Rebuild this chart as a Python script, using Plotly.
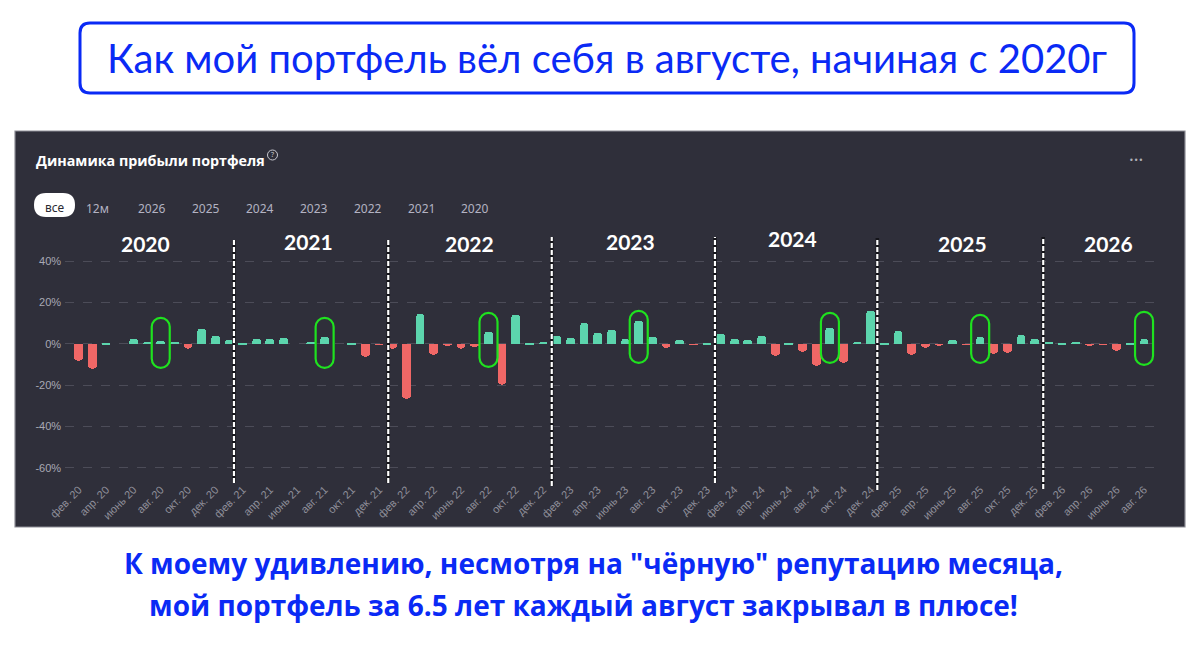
import plotly.graph_objects as go

# ---------------- data ----------------
# monthly portfolio return, %, from фев. 2020 to авг. 2026
values_2020 = [-8.2, -11.8, 0.3, 0.0, 2.3, 1.0, 1.6, 1.3, -2.1, 7.4, 4.0]          # фев..дек
values_2021 = [1.9, 0.6, 2.7, 2.4, 3.1, 0.0, 1.3, 3.7, 0.0, 0.8, -6.1, -0.3]
values_2022 = [-2.3, -26.5, 14.5, -5.0, -1.0, -2.1, -1.3, 6.1, -19.8, 14.2, 0.6, 1.0]
values_2023 = [4.0, 3.2, 10.3, 5.5, 6.8, 2.6, 11.0, 3.4, -1.9, 1.9, -0.3, 0.6]
values_2024 = [5.0, 2.4, 1.9, 3.8, -5.7, 0.3, -4.0, -10.3, 8.0, -9.2, 1.0, 16.0]
values_2025 = [0.6, 6.6, -5.1, -2.0, -1.0, 1.9, -0.3, 3.7, -4.8, -4.2, 4.4, 2.3]
values_2026 = [1.1, 0.8, 1.0, -1.0, -0.3, -3.4, 0.3, 2.6]                         # янв..авг

tick_text = [
    "фев. 20", "апр. 20", "июнь 20", "авг. 20", "окт. 20", "дек. 20",
    "фев. 21", "апр. 21", "июнь 21", "авг. 21", "окт. 21", "дек. 21",
    "фев. 22", "апр. 22", "июнь 22", "авг. 22", "окт. 22", "дек. 22",
    "фев. 23", "апр. 23", "июнь 23", "авг. 23", "окт. 23", "дек. 23",
    "фев. 24", "апр. 24", "июнь 24", "авг. 24", "окт. 24", "дек. 24",
    "фев. 25", "апр. 25", "июнь 25", "авг. 25", "окт. 25", "дек. 25",
    "фев. 26", "апр. 26", "июнь 26", "авг. 26",
]
y_ticks = [-60, -40, -20, 0, 20, 40]
year_labels = ["2020", "2021", "2022", "2023", "2024", "2025", "2026"]
filter_labels = ["12м", "2026", "2025", "2024", "2023", "2022", "2021", "2020"]
# bar indices the author circled
circled_idx = [6, 18, 30, 41, 55, 66, 78]

values = values_2020 + values_2021 + values_2022 + values_2023 + values_2024 + values_2025 + values_2026
x_idx = list(range(len(values)))

GREEN = "#5cd5ad"
RED = "#f06766"
PANEL = "#2f2f3a"
BLUE = "#0a2af5"

# the page body has an 8px margin: lay out in window pixels and compensate
OFF = 8
W, H = 1200 - OFF, 650 - OFF
def px(x):
    return (x - OFF) / W
def py(y):
    return 1 - (y - OFF) / H

def rrect_path(x0, y0, x1, y1, r):
    pts = [
        f"M {px(x0 + r)},{py(y0)}",
        f"L {px(x1 - r)},{py(y0)}",
        f"Q {px(x1)},{py(y0)} {px(x1)},{py(y0 + r)}",
        f"L {px(x1)},{py(y1 - r)}",
        f"Q {px(x1)},{py(y1)} {px(x1 - r)},{py(y1)}",
        f"L {px(x0 + r)},{py(y1)}",
        f"Q {px(x0)},{py(y1)} {px(x0)},{py(y1 - r)}",
        f"L {px(x0)},{py(y0 + r)}",
        f"Q {px(x0)},{py(y0)} {px(x0 + r)},{py(y0)}",
        "Z",
    ]
    return " ".join(pts)

def stadium_path(top, bot, r=9.0):
    k = 0.5523 * r
    return (
        f"M {-r},{bot + r} L {-r},{top - r} "
        f"C {-r},{top - r + k} {-k},{top} 0,{top} "
        f"C {k},{top} {r},{top - r + k} {r},{top - r} "
        f"L {r},{bot + r} "
        f"C {r},{bot + r - k} {k},{bot} 0,{bot} "
        f"C {-k},{bot} {-r},{bot + r - k} {-r},{bot + r} Z"
    )

colors = [GREEN if v >= 0 else RED for v in values]

fig = go.Figure()
fig.add_trace(go.Bar(
    x=x_idx, y=values, width=0.64,
    marker=dict(color=colors, line=dict(width=0), cornerradius=4),
    hoverinfo="skip", showlegend=False,
))

shapes = []
# dark panel
shapes.append(dict(type="rect", xref="paper", yref="paper",
                   x0=px(15), x1=px(1185), y0=py(527), y1=py(131),
                   fillcolor=PANEL, line=dict(color="#8d8d95", width=1.2), layer="below"))
# title box
shapes.append(dict(type="path", xref="paper", yref="paper",
                   path=rrect_path(80, 23, 1134, 93, 10),
                   fillcolor="rgba(0,0,0,0)", line=dict(color=BLUE, width=3)))
# "все" pill
shapes.append(dict(type="path", xref="paper", yref="paper",
                   path=rrect_path(34, 193, 75, 217, 12),
                   fillcolor="white", line=dict(width=0)))
# question icon
shapes.append(dict(type="circle", xref="paper", yref="paper",
                   x0=px(267.5), x1=px(277.5), y0=py(160), y1=py(150),
                   line=dict(color="#c9c9d0", width=1)))
# year separators (hand-drawn dashed lines)
sep_x = [11.36, 22.66, 34.63, 46.58, 58.47, 70.62]
sep_top = [240, 240, 237, 237, 238, 237]
sep_bot = [483, 483, 486, 483, 490, 489]
for xs, t, b in zip(sep_x, sep_top, sep_bot):
    shapes.append(dict(type="line", xref="x", yref="paper", x0=xs, x1=xs,
                       y0=py(b), y1=py(t), line=dict(color="#15151a", width=3.5)))
    shapes.append(dict(type="line", xref="x", yref="paper", x0=xs, x1=xs,
                       y0=py(b), y1=py(t), line=dict(color="white", width=2.2, dash="5px,2px")))
# green highlight loops around the circled bars
loop_top = [26, 26, 31, 33, 31, 29, 32]
loop_bot = [-24, -24, -23, -19, -19, -19, -21]
for i, t, b in zip(circled_idx, loop_top, loop_bot):
    shapes.append(dict(type="path", xref="x", yref="y",
                       xsizemode="pixel", ysizemode="pixel",
                       xanchor=i, yanchor=0,
                       path=stadium_path(t, b),
                       line=dict(color="#1fe21f", width=2.2)))

annotations = []
# main title
annotations.append(dict(xref="paper", yref="paper", x=px(607), y=py(58),
                        text="Как мой портфель вёл себя в августе, начиная с 2020г",
                        showarrow=False, xanchor="center", yanchor="middle",
                        font=dict(family="Lato", size=40, color=BLUE)))
# caption
annotations.append(dict(xref="paper", yref="paper", x=px(593), y=py(563),
                        text="К моему удивлению, несмотря на \"чёрную\" репутацию месяца,",
                        showarrow=False, xanchor="center", yanchor="middle",
                        font=dict(family="Open Sans", size=28, color=BLUE, weight="bold")))
annotations.append(dict(xref="paper", yref="paper", x=px(583), y=py(605),
                        text="мой портфель за 6.5 лет каждый август закрывал в плюсе!",
                        showarrow=False, xanchor="center", yanchor="middle",
                        font=dict(family="Open Sans", size=28, color=BLUE, weight="bold")))
# panel title
annotations.append(dict(xref="paper", yref="paper", x=px(34), y=py(160),
                        text="Динамика прибыли портфеля", showarrow=False,
                        xanchor="left", yanchor="middle",
                        font=dict(family="Open Sans", size=14.3, color="white", weight="bold")))
annotations.append(dict(xref="paper", yref="paper", x=px(272.5), y=py(155),
                        text="?", showarrow=False, xanchor="center", yanchor="middle",
                        font=dict(family="Noto Sans", size=7, color="#c9c9d0")))
annotations.append(dict(xref="paper", yref="paper", x=px(1136), y=py(160),
                        text="•••", showarrow=False, xanchor="center", yanchor="middle",
                        font=dict(family="DejaVu Sans", size=8, color="#b0b0b8")))
# filter row
annotations.append(dict(xref="paper", yref="paper", x=px(54.5), y=py(207),
                        text="все", showarrow=False, xanchor="center", yanchor="middle",
                        font=dict(family="Noto Sans", size=12, color="#2a2a33")))
filter_x = [97.7, 151.7, 206, 260, 314, 367.7, 421, 475]
for lab, fx in zip(filter_labels, filter_x):
    annotations.append(dict(xref="paper", yref="paper", x=px(fx), y=py(208),
                            text=lab, showarrow=False, xanchor="center", yanchor="middle",
                            font=dict(family="Noto Sans", size=12, color="#b3b3c2")))
# year labels
year_x = [145, 308, 469, 630, 792, 962, 1108]
year_y = [243, 241.5, 243, 241.5, 238.5, 243, 243]
for lab, yx, yy in zip(year_labels, year_x, year_y):
    annotations.append(dict(xref="paper", yref="paper", x=px(yx), y=py(yy),
                            text=lab, showarrow=False, xanchor="center", yanchor="middle",
                            font=dict(family="Lato", size=21, color="white", weight="bold")))

# axis geometry: bar i at 78.8 + 13.657*i px ; 0% at 344 px, 2.07 px per %
x_lo, x_hi = -1.0, 78.8
x_left_px = 78.8 + x_lo * 13.657
x_right_px = 78.8 + x_hi * 13.657
y_lo, y_hi = -66, 46
fig.update_layout(
    width=W, height=H,
    margin=dict(l=0, r=0, t=0, b=0, autoexpand=False),
    paper_bgcolor="white",
    plot_bgcolor="rgba(0,0,0,0)",
    shapes=shapes,
    annotations=annotations,
    bargap=0,
    xaxis=dict(
        domain=[px(x_left_px), px(x_right_px)],
        range=[x_lo, x_hi], automargin=False,
        tickvals=x_idx[::2], ticktext=tick_text, tickangle=-45,
        tickfont=dict(family="Liberation Sans", size=11, color="#8f8f9b"),
        showgrid=False, zeroline=False, showline=False, ticks="",
        fixedrange=True,
    ),
    yaxis=dict(
        domain=[py(480.4), py(248.6)],
        range=[y_lo, y_hi], automargin=False,
        tickvals=y_ticks, ticktext=[f"{v}%" for v in y_ticks],
        tickfont=dict(family="Liberation Sans", size=11, color="#a9a9b4"),
        showgrid=True, gridcolor="#4c4c58", griddash="dash", gridwidth=1,
        zeroline=False, showline=False, ticks="", ticklabelstandoff=3,
        fixedrange=True,
    ),
)

fig.write_html("out.html")
